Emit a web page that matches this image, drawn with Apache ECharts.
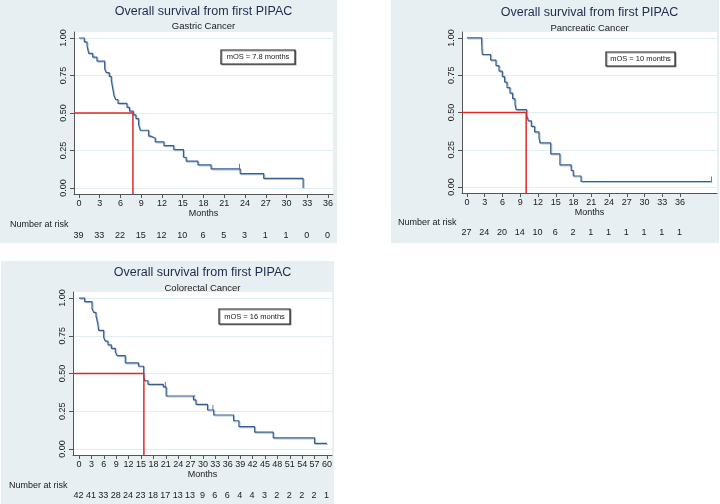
<!DOCTYPE html>
<html><head><meta charset="utf-8">
<script src="https://cdn.jsdelivr.net/npm/echarts@6/dist/echarts.min.js"></script>
<style>html,body{margin:0;padding:0;background:#fff}#c{width:720px;height:504px}</style>
</head><body><div id="c"></div>
<script>
// ---------- DATA ----------
const chartTitle = 'Overall survival from first PIPAC';
const xName = 'Months';
const riskTitle = 'Number at risk';
const yTicks = [0, 0.25, 0.5, 0.75, 1];

const gastricName = 'Gastric Cancer';
const gastricTime = [0, 0.77, 1.16, 1.40, 1.98, 2.60, 3.71, 3.95, 4.38, 4.67, 4.86, 5.06, 5.30, 5.64, 6.94, 7.30, 7.85, 8.24, 8.62, 8.86, 10.07, 10.36, 11.03, 12.28, 13.70, 15.10, 15.50, 17.20, 19.10, 23.30, 26.70, 32.40];
const gastricSurv = [1, 0.974, 0.949, 0.897, 0.872, 0.846, 0.795, 0.769, 0.744, 0.718, 0.667, 0.615, 0.590, 0.564, 0.538, 0.513, 0.487, 0.462, 0.423, 0.385, 0.346, 0.333, 0.308, 0.282, 0.256, 0.205, 0.179, 0.154, 0.128, 0.096, 0.064, 0];
const gastricCensor = [[23.2, 0.128]];
const gastricMedian = 7.8;
const gastricMos = 'mOS = 7.8 months';
const gastricTicks = [0, 3, 6, 9, 12, 15, 18, 21, 24, 27, 30, 33, 36];
const gastricRisk = [39, 33, 22, 15, 12, 10, 6, 5, 3, 1, 1, 0, 0];

const pancName = 'Pancreatic Cancer';
const pancTime = [0, 2.48, 2.59, 4.0, 4.9, 5.41, 5.97, 6.36, 6.76, 7.26, 7.71, 8.11, 8.30, 10.08, 10.36, 10.87, 11.43, 12.16, 12.33, 14.14, 15.70, 17.60, 17.96, 19.26, 41.3];
const pancSurv = [1, 0.963, 0.889, 0.852, 0.815, 0.778, 0.741, 0.704, 0.667, 0.630, 0.593, 0.556, 0.519, 0.481, 0.444, 0.407, 0.370, 0.333, 0.296, 0.222, 0.148, 0.111, 0.074, 0.037, 0.037];
const pancCensor = [[41.3, 0.037]];
const pancMedian = 10;
const pancMos = 'mOS = 10 months';
const pancTicks = [0, 3, 6, 9, 12, 15, 18, 21, 24, 27, 30, 33, 36];
const pancRisk = [27, 24, 20, 14, 10, 6, 2, 1, 1, 1, 1, 1, 1];

const crcName = 'Colorectal Cancer';
const crcTime = [0, 1.37, 3.15, 3.55, 4.11, 4.52, 4.76, 5.97, 6.37, 7.02, 7.82, 8.79, 9.19, 11.2, 14.4, 15.65, 15.9, 16.7, 20.4, 21.1, 27.7, 28.3, 31.1, 32.6, 37.4, 38.7, 42.5, 47.0, 57.0, 60.0];
const crcSurv = [1, 0.976, 0.929, 0.905, 0.881, 0.833, 0.786, 0.738, 0.714, 0.690, 0.667, 0.643, 0.619, 0.571, 0.548, 0.476, 0.452, 0.428, 0.411, 0.351, 0.325, 0.296, 0.258, 0.225, 0.187, 0.148, 0.111, 0.074, 0.037, 0.037];
const crcCensor = [[20.9, 0.411], [28.0, 0.325], [32.4, 0.258]];
const crcMedian = 15.7;
const crcMos = 'mOS = 16 months';
const crcTicks = [0, 3, 6, 9, 12, 15, 18, 21, 24, 27, 30, 33, 36, 39, 42, 45, 48, 51, 54, 57, 60];
const crcRisk = [42, 41, 33, 28, 24, 23, 18, 17, 13, 13, 9, 6, 6, 4, 4, 3, 2, 2, 2, 2, 1];

// ---------- LAYOUT / STYLE ----------
const FONT = '"Liberation Sans", Arial, sans-serif';
const BG = '#e7eff2';
const KM = '#3c5d88';
const RED = '#dd2a2a';
const TXT = '#1a1a1a';
const AX = '#555';
const YMIN = -0.04, YMAX = 1.04;

const panels = [
  {name: gastricName, time: gastricTime, surv: gastricSurv, censor: gastricCensor, median: gastricMedian, mos: gastricMos, ticks: gastricTicks, risk: gastricRisk,
   bg: [0, 0, 337, 243], grid: {left: 74, top: 32, width: 259, height: 162}, xmin: -0.72, xmax: 36.72,
   titleY: 12, subY: 26, nameGap: 13, riskLabel: [10, 225], riskY: 236, box: [221, 50, 74, 14]},
  {name: pancName, time: pancTime, surv: pancSurv, censor: pancCensor, median: pancMedian, mos: pancMos, ticks: pancTicks, risk: pancRisk,
   bg: [391, 0, 328, 243], grid: {left: 462, top: 32, width: 255, height: 161}, xmin: -0.84, xmax: 42.23,
   titleY: 13, subY: 28, nameGap: 12, riskLabel: [398, 223], riskY: 233, box: [606, 52, 69, 14]},
  {name: crcName, time: crcTime, surv: crcSurv, censor: crcCensor, median: crcMedian, mos: crcMos, ticks: crcTicks, risk: crcRisk,
   bg: [1, 261, 333, 243], grid: {left: 73, top: 292, width: 259, height: 163}, xmin: -1.45, xmax: 61.22,
   titleY: 273, subY: 288, nameGap: 13, riskLabel: [9, 486], riskY: 496, box: [219, 309, 71, 15]}
];

const grid = [], xAxis = [], yAxis = [], series = [], graphic = [];

panels.forEach((p, i) => {
  const g = p.grid;
  const cx = g.left + g.width / 2;
  graphic.push({type: 'rect', z: -10, shape: {x: p.bg[0], y: p.bg[1], width: p.bg[2], height: p.bg[3]}, style: {fill: BG}});
  graphic.push({type: 'text', x: cx, y: p.titleY, style: {text: chartTitle, font: '12.5px ' + FONT, fill: '#1d2b4c', textAlign: 'center', textVerticalAlign: 'middle', align: 'center', verticalAlign: 'middle'}});
  graphic.push({type: 'text', x: cx, y: p.subY, style: {text: p.name, font: '9.5px ' + FONT, fill: TXT, textAlign: 'center', textVerticalAlign: 'middle', align: 'center', verticalAlign: 'middle'}});
  graphic.push({type: 'text', x: p.riskLabel[0], y: p.riskLabel[1], style: {text: riskTitle, font: '9px ' + FONT, fill: TXT, textAlign: 'left', textVerticalAlign: 'middle', align: 'left', verticalAlign: 'middle'}});
  graphic.push({type: 'rect', z: 20, shape: {x: p.box[0], y: p.box[1], width: p.box[2], height: p.box[3]},
    style: {fill: '#fff', stroke: '#222', lineWidth: 1.2, shadowColor: 'rgba(0,0,0,0.35)', shadowOffsetX: 1, shadowOffsetY: 1, shadowBlur: 0}});
  graphic.push({type: 'text', z: 21, x: p.box[0] + p.box[2] / 2, y: p.box[1] + p.box[3] / 2, style: {text: p.mos, font: '7.5px ' + FONT, fill: TXT, textAlign: 'center', textVerticalAlign: 'middle', align: 'center', verticalAlign: 'middle'}});

  const gi = grid.length;
  grid.push({left: g.left, top: g.top, width: g.width, height: g.height, show: true, backgroundColor: '#fff', borderWidth: 0});
  grid.push({left: g.left, top: p.riskY - 1, width: g.width, height: 2, show: false});

  xAxis.push({gridIndex: gi, type: 'value', min: p.xmin, max: p.xmax,
    name: xName, nameLocation: 'middle', nameGap: p.nameGap, nameTextStyle: {fontSize: 9, color: TXT, fontFamily: FONT},
    axisLine: {show: true, onZero: false, lineStyle: {color: AX, width: 1}},
    axisTick: {show: true, length: 4, customValues: p.ticks, lineStyle: {color: AX}},
    axisLabel: {customValues: p.ticks, margin: 5, fontSize: 9, color: TXT, fontFamily: FONT, hideOverlap: false},
    splitLine: {show: false}});
  xAxis.push({gridIndex: gi + 1, type: 'value', min: p.xmin, max: p.xmax, show: false});

  yAxis.push({gridIndex: gi, type: 'value', min: YMIN, max: YMAX,
    axisLine: {show: true, onZero: false, lineStyle: {color: AX, width: 1}},
    axisTick: {show: true, length: 4, customValues: yTicks, lineStyle: {color: AX}},
    axisLabel: {customValues: yTicks, rotate: 90, margin: 6, fontSize: 9, color: TXT, fontFamily: FONT, formatter: v => v.toFixed(2)},
    splitLine: {show: true, lineStyle: {color: '#e2edf1', width: 1}}});
  yAxis.push({gridIndex: gi + 1, type: 'value', min: 0, max: 1, show: false});

  series.push({type: 'line', xAxisIndex: gi, yAxisIndex: gi, step: 'end', symbol: 'none', silent: true,
    data: p.time.map((t, k) => [t, p.surv[k]]),
    lineStyle: {color: KM, width: 1.2, shadowColor: '#a9c6df', shadowOffsetX: 1, shadowOffsetY: 1, shadowBlur: 0}});
  series.push({type: 'scatter', xAxisIndex: gi, yAxisIndex: gi, silent: true, symbol: 'rect', symbolSize: [1, 5], symbolOffset: [0, -2.5],
    itemStyle: {color: KM}, data: p.censor});
  series.push({type: 'line', xAxisIndex: gi, yAxisIndex: gi, symbol: 'none', silent: true, z: 5,
    data: [[p.xmin, 0.5], [p.median, 0.5], [p.median, YMIN]],
    lineStyle: {color: RED, width: 1.5}});
  series.push({type: 'scatter', xAxisIndex: gi + 1, yAxisIndex: gi + 1, silent: true, symbolSize: 1,
    itemStyle: {color: 'rgba(0,0,0,0)'},
    data: p.ticks.map((t, k) => [t, 0.5, p.risk[k]]),
    label: {show: true, position: [0, 0], align: 'center', verticalAlign: 'middle', formatter: q => String(q.value[2]), fontSize: 9, color: TXT, opacity: 1, fontFamily: FONT}});
});

const chart = echarts.init(document.getElementById('c'), null, {renderer: 'canvas'});
chart.setOption({animation: false, backgroundColor: '#fff', grid, xAxis, yAxis, series, graphic: {elements: graphic}});
</script>
</body></html>
